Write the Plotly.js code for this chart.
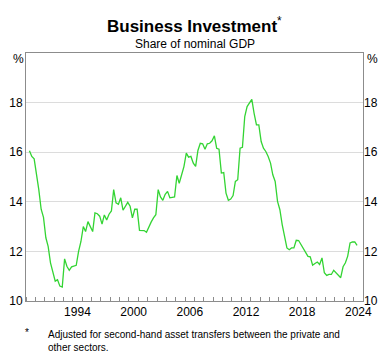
<!DOCTYPE html>
<html>
<head>
<meta charset="utf-8">
<script src="https://cdn.plot.ly/plotly-3.0.1.min.js"></script>
<style>
  html, body { margin: 0; padding: 0; background: #fff; }
  #chart { width: 392px; height: 356px; }
</style>
</head>
<body>
<div id="chart"></div>
<script>
// Quarterly series, first observation 1989 Q2, last 2024 Q2
const startYear = 1989;
const startQuarter = 2;

// Business investment, share of nominal GDP (%)
const investmentShare = [
  16.06, 15.83, 15.73, 15.16, 14.49, 13.70, 13.37, 12.55, 12.20, 11.54,
  11.14, 10.80, 10.86, 10.60, 10.56, 11.70, 11.40, 11.24, 11.38, 11.40,
  11.44, 12.00, 12.40, 13.00, 12.80, 13.20, 13.00, 12.80, 13.55, 13.52,
  13.42, 13.10, 13.47, 13.27, 13.50, 13.63, 14.49, 13.96, 13.90, 14.16,
  13.66, 13.82, 13.98, 13.82, 13.35, 13.70, 13.70, 12.85, 12.84, 12.84,
  12.77, 13.00, 13.18, 13.35, 13.48, 14.49, 14.20, 14.06, 14.30, 14.42,
  14.16, 14.18, 14.20, 15.06, 14.75, 15.08, 15.42,
  15.96, 15.80, 15.83, 15.56, 15.43, 16.07, 16.36, 16.34, 16.12, 16.34,
  16.36, 16.46, 16.66, 16.16, 16.12, 15.16, 15.18, 14.35, 14.06, 14.11,
  14.25, 14.82, 14.89, 16.16, 16.20, 17.44, 17.84, 17.97, 18.13, 17.57,
  17.10, 17.10, 16.43, 16.16, 16.03, 15.83, 15.56, 15.09, 14.82, 14.02,
  13.68, 13.08, 12.64, 12.14, 12.07, 12.14, 12.14, 12.45, 12.44, 12.28,
  12.07, 11.91, 11.80, 11.78, 11.44, 11.51, 11.57, 11.47, 11.74, 11.14,
  11.03, 11.07, 11.07, 11.24, 11.14, 11.03, 10.94, 11.38, 11.54, 11.81,
  12.34, 12.38, 12.38, 12.24
];

const yearTickLabels = ['1994', '2000', '2006', '2012', '2018', '2024'];
const yTickValues = [10, 12, 14, 16, 18];
const yTickLabels = ['10', '12', '14', '16', '18'];

// quarter dates (mid-quarter) for each observation
const quarterDates = investmentShare.map((v, i) => {
  const q0 = (startQuarter - 1) + i;
  const yr = startYear + Math.floor(q0 / 4);
  const q = q0 % 4;
  const month = q * 3 + 2;
  return yr + '-' + String(month).padStart(2, '0') + '-15';
});
const yearTickVals = yearTickLabels.map(y => y + '-07-02');

const FONT = 'Liberation Sans, Arial, Helvetica, sans-serif';
const FRAME = '#8c8c8c';

const traces = [
  {
    x: quarterDates, y: investmentShare, type: 'scatter', mode: 'lines',
    line: { color: '#33d433', width: 1.3 }, hoverinfo: 'skip', showlegend: false
  },
  {
    x: quarterDates, y: investmentShare, type: 'scatter', mode: 'lines',
    yaxis: 'y2', opacity: 0, line: { width: 0 }, hoverinfo: 'skip', showlegend: false
  }
];

const yCommon = {
  range: [10, 20], tickmode: 'array', tickvals: yTickValues, ticktext: yTickLabels,
  ticks: '', zeroline: false, fixedrange: true,
  tickfont: { family: FONT, size: 12, color: '#000' }
};

const layout = {
  width: 392, height: 356,
  margin: { l: 26, r: 29, t: 53, b: 55, pad: 0 },
  paper_bgcolor: '#fff', plot_bgcolor: '#fff',
  font: { family: FONT, size: 12, color: '#000' },
  showlegend: false,
  xaxis: {
    type: 'date', range: ['1989-01-01', '2025-01-01'],
    tickmode: 'array', tickvals: yearTickVals, ticktext: yearTickLabels,
    ticks: '', showgrid: false, zeroline: false,
    showline: true, linecolor: FRAME, linewidth: 1, mirror: true,
    tickfont: { family: FONT, size: 12, color: '#000' },
    minor: { tick0: '1989-01-01', dtick: 'M12', ticks: 'inside', ticklen: 4, tickcolor: FRAME, tickwidth: 1, showgrid: false },
    fixedrange: true
  },
  yaxis: Object.assign({}, yCommon, {
    side: 'left', showgrid: true, gridcolor: '#dcdcdc', gridwidth: 1,
    showline: true, linecolor: FRAME, linewidth: 1, mirror: true
  }),
  yaxis2: Object.assign({}, yCommon, {
    overlaying: 'y', side: 'right', showgrid: false, showline: false
  }),
  annotations: [
    { text: '<b>Business Investment</b><sup>*</sup>', xref: 'paper', yref: 'paper',
      x: 0.5, y: 1.1129, xanchor: 'center', yanchor: 'middle', showarrow: false,
      font: { family: FONT, size: 17, color: '#000' } },
    { text: 'Share of nominal GDP', xref: 'paper', yref: 'paper',
      x: 0.5, y: 1.0383, xanchor: 'center', yanchor: 'middle', showarrow: false,
      font: { family: FONT, size: 12, color: '#000' } },
    { text: '%', xref: 'paper', yref: 'paper', x: 0, y: 0.9778, xanchor: 'right', yanchor: 'middle',
      xshift: 0, showarrow: false, font: { family: FONT, size: 12, color: '#000' } },
    { text: '%', xref: 'paper', yref: 'paper', x: 1, y: 0.9778, xanchor: 'left', yanchor: 'middle',
      xshift: 2, showarrow: false, font: { family: FONT, size: 12, color: '#000' } },
    { text: '*', xref: 'paper', yref: 'paper', x: 0.0030, y: -0.128, xanchor: 'center', yanchor: 'middle',
      showarrow: false, font: { family: FONT, size: 10, color: '#000' } },
    { text: 'Adjusted for second-hand asset transfers between the private and<br>other sectors.',
      xref: 'paper', yref: 'paper', x: 0.0593, y: -0.1605, xanchor: 'left', yanchor: 'middle',
      align: 'left', showarrow: false, font: { family: FONT, size: 10, color: '#000' } }
  ]
};

Plotly.newPlot('chart', traces, layout, { staticPlot: true, displayModeBar: false });
</script>
</body>
</html>
